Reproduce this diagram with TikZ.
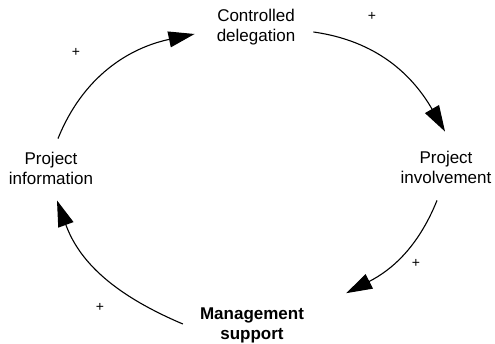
\documentclass[tikz,border=0pt]{standalone}
\usepackage{fontspec}
\setmainfont{Liberation Sans}
\usetikzlibrary{arrows.meta}
\usetikzlibrary{positioning}

\begin{document}
\begin{tikzpicture}[x=1pt,y=1pt,
  var/.style={align=center, inner sep=0pt, font=\fontsize{17}{20}\selectfont},
  link/.style={-{Triangle[length=26pt,width=16pt]}, line width=1.1pt},
  sign/.style={inner sep=0pt, font=\fontsize{14}{14}\selectfont}]

 % frame of the picture
 \useasboundingbox (0,0) rectangle (495,344);

 % the four variables of the loop
 \node[var] (Deleg) at (256,317) {Controlled\\delegation};
 \node[var] (Invol) at (446,177) {Project\\involvement};
 \node[var, font=\fontsize{17}{20}\selectfont\bfseries] (Mgmt) at (252,19) {Management\\support};
 \node[var] (Info)  at (51,176)  {Project\\information};

 % the links, drawn clockwise
 \draw[link] ([shift={(7,13)}]Info.north)  to[out=68,in=192]   ([shift={(-22,-7)}]Deleg.west);
 \draw[link] ([shift={(18,-5)}]Deleg.east) to[out=-8,in=120]   ([shift={(-1,19)}]Invol.north);
 \draw[link] ([shift={(-9,-17)}]Invol.south) to[out=-112,in=27] ([shift={(42,14)}]Mgmt.north east);
 \draw[link] ([shift={(-17,1)}]Mgmt.west)  to[out=157,in=290]  ([shift={(6,-16)}]Info.south);

 % polarity of each link
 \node[sign] (s1) at (76,292) {+};
 \node[sign] (s2) at (372,328) {+};
 \node[sign] (s3) at (416,81) {+};
 \node[sign] (s4) at (100,37) {+};

\end{tikzpicture}
\end{document}
